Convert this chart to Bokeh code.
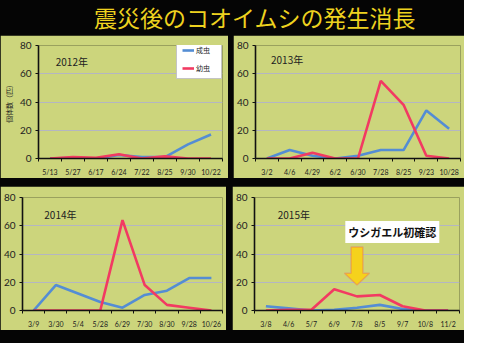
from bokeh.plotting import figure
from bokeh.models import (Range1d, FixedTicker, Label, Legend, LegendItem,
                          PolyAnnotation, Div, Spacer)
from bokeh.layouts import column, row
from bokeh.embed import file_html
from bokeh.resources import INLINE

title_text = "震災後のコオイムシの発生消長"
series_names = ["成虫", "幼虫"]
y_title = "個体数（匹）"
years = ["2012年", "2013年", "2014年", "2015年"]

dates_2012 = ["5/13", "5/27", "6/17", "6/24", "7/22", "8/25", "9/30", "10/22"]
adult_2012 = [0, 0.5, 0, 2.5, 1, 1, 10, 17]
larva_2012 = [0, 1, 0.5, 3, 0, 1.5, 0, 0]

dates_2013 = ["3/2", "4/6", "4/29", "6/2", "6/30", "7/28", "8/25", "9/23", "10/28"]
adult_2013 = [0, 6, 2, 0, 2, 6, 6, 34, 21]
larva_2013 = [0, 0, 4, 0, 0, 55, 38, 2, 0]

dates_2014 = ["3/9", "3/30", "5/4", "5/28", "6/29", "7/30", "8/30", "9/28", "10/26"]
adult_2014 = [0, 18, 12, 6, 2, 11, 14, 23, 23]
larva_2014 = [0, 0, 0, 0, 64, 18, 4, 2, 0]

dates_2015 = ["3/8", "4/6", "5/7", "6/9", "7/8", "8/5", "9/7", "10/8", "11/2"]
adult_2015 = [3, 1.5, 0, 0.5, 2, 4, 1, 0, 0]
larva_2015 = [0, 0.5, 0.5, 15, 10, 11, 3, 0, 0]

y_ticks = [0, 20, 40, 60, 80]
note_text = "ウシガエル初確認"
note_date = "7/8"

BG = "#050505"
PANEL = "#ccd57c"
GRID = "#b4b6c2"
BLUE = "#548dd4"
RED = "#f23a62"
JP = "Noto Sans CJK JP"
NUM = "Lato"


def make_panel(dates, adult, larva, year, width, height, borders, year_pos, ytitle=False):
    n = len(dates)
    left, right, top, bottom = borders
    p = figure(width=width, height=height, output_backend="svg", toolbar_location=None,
               x_range=Range1d(-0.5, n - 0.5), y_range=Range1d(0, 80),
               min_border_left=left, min_border_right=right,
               min_border_top=top, min_border_bottom=bottom)
    p.background_fill_color = PANEL
    p.border_fill_color = PANEL
    p.outline_line_color = None
    xs = list(range(n))
    rb = p.line(xs, adult, line_color=BLUE, line_width=2.6)
    rr = p.line(xs, larva, line_color=RED, line_width=2.6)

    xa = p.xaxis[0]
    xa.ticker = FixedTicker(ticks=xs, minor_ticks=[i - 0.5 for i in range(n + 1)])
    xa.major_label_overrides = {i: d for i, d in enumerate(dates)}
    xa.major_tick_in = 0
    xa.major_tick_out = 0
    xa.minor_tick_in = 0
    xa.minor_tick_out = 3
    xa.minor_tick_line_color = "#111111"
    xa.axis_line_color = "#111111"
    xa.axis_line_width = 1.6
    xa.major_label_text_font = NUM
    xa.major_label_text_font_size = "7px"
    xa.major_label_text_color = "#222222"
    xa.major_label_standoff = 6

    ya = p.yaxis[0]
    ya.ticker = FixedTicker(ticks=y_ticks)
    ya.major_tick_in = 0
    ya.major_tick_out = 3
    ya.minor_tick_out = 0
    ya.major_tick_line_color = "#111111"
    ya.axis_line_color = "#111111"
    ya.axis_line_width = 1.6
    ya.major_label_text_font = NUM
    ya.major_label_text_font_size = "10px"
    ya.major_label_text_color = "#222222"
    ya.major_label_standoff = 4
    if ytitle:
        ya.axis_label = y_title
        ya.axis_label_text_font = JP
        ya.axis_label_text_font_size = "7px"
        ya.axis_label_text_font_style = "normal"
        ya.axis_label_text_color = "#222222"
        ya.axis_label_standoff = 3

    p.xgrid.grid_line_color = None
    p.ygrid.ticker = FixedTicker(ticks=y_ticks[1:])
    p.ygrid.grid_line_color = GRID
    p.ygrid.grid_line_width = 1

    p.add_layout(Label(x=year_pos[0], y=year_pos[1], text=year, text_font=JP,
                       text_font_size="10px", text_color="#222222",
                       text_align="left", text_baseline="middle"))
    return p, rb, rr


p1, rb1, rr1 = make_panel(dates_2012, adult_2012, larva_2012, years[0], 228, 143,
                          (37, 6, 10, 18), (0.25, 69), ytitle=True)
p2, _, _ = make_panel(dates_2013, adult_2013, larva_2013, years[1], 231, 143,
                      (21, 4, 10, 19), (0.18, 70))
p3, _, _ = make_panel(dates_2014, adult_2014, larva_2014, years[2], 226, 144,
                      (22, 4, 11, 19), (0.48, 68))
p4, _, _ = make_panel(dates_2015, adult_2015, larva_2015, years[3], 232, 144,
                      (22, 5, 10, 19), (0.52, 68))

legend = Legend(items=[LegendItem(label=series_names[0], renderers=[rb1]),
                       LegendItem(label=series_names[1], renderers=[rr1])],
                location=(138, 79))
legend.border_line_color = "#8a8a8a"
legend.border_line_width = 1
legend.background_fill_color = "white"
legend.background_fill_alpha = 1
legend.label_text_font = JP
legend.label_text_font_size = "7px"
legend.label_text_color = "#222222"
legend.glyph_width = 12
legend.glyph_height = 10
legend.label_height = 10
legend.spacing = 8
legend.padding = 5
legend.margin = 0
legend.label_standoff = 2
p1.add_layout(legend)

ix = dates_2015.index(note_date)
p4.add_layout(Label(x=ix + 1.55, y=55.6, text=note_text, text_font=JP,
                    text_font_size="11px", text_font_style="bold", text_color="#111111",
                    text_align="center", text_baseline="middle",
                    background_fill_color="white", background_fill_alpha=1, padding=3))
arrow_xs = [ix, ix + 0.55, ix + 0.26, ix + 0.26, ix - 0.26, ix - 0.26, ix - 0.55]
arrow_ys = [18, 26.4, 26.4, 45, 45, 26.4, 26.4]
p4.add_layout(PolyAnnotation(xs=arrow_xs, ys=arrow_ys, fill_color="#f5d21c", fill_alpha=1,
                             line_color="#ee4466", line_width=1.5))

title = Div(text=f'<div style="margin-left:94px; margin-top:4px; font-family:\'{JP}\'; '
                 f'font-size:23px; line-height:26px; color:#eed21f; white-space:nowrap;">{title_text}</div>',
            width=464, height=35, styles={"background-color": BG, "margin": "0"})

blk = {"background-color": BG}
r1 = row(p1, Spacer(width=5, height=143, styles=blk), p2, styles=blk)
r2 = row(p3, Spacer(width=6, height=144, styles=blk), p4, styles=blk)
layout = column(title, r1, Spacer(width=464, height=8, styles=blk), r2,
                Spacer(width=464, height=13, styles=blk), styles=blk)

open("out.html", "w").write(file_html(layout, INLINE))
